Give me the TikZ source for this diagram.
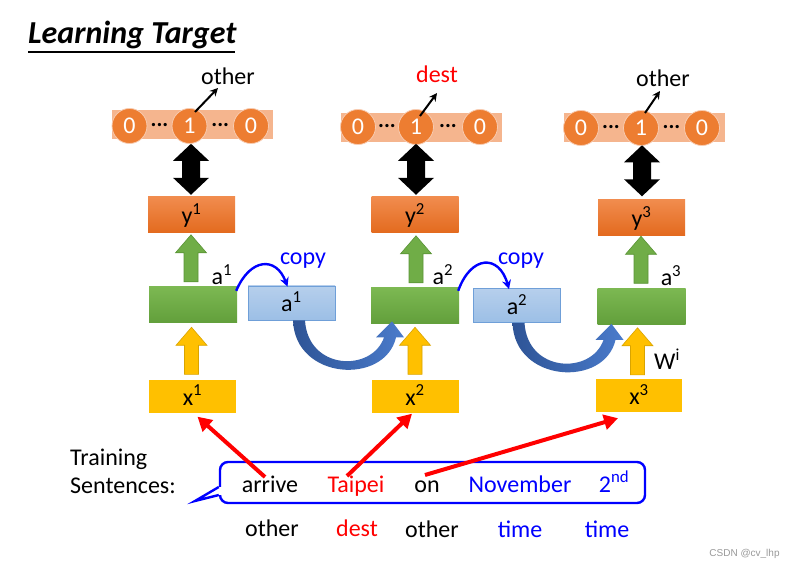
\documentclass[tikz,border=0pt]{standalone}
\usepackage{fontspec}
\setmainfont{Carlito}
\newfontfamily\wmfont{Liberation Sans}
\usetikzlibrary{arrows.meta,calc}
\definecolor{stripc}{HTML}{F5B58E}
\definecolor{circc}{HTML}{ED7D31}
\definecolor{yorT}{HTML}{F18C4E}
\definecolor{yorB}{HTML}{E36A1E}
\definecolor{grT}{HTML}{7CB852}
\definecolor{grB}{HTML}{629F3B}
\definecolor{garr}{HTML}{70AD47}
\definecolor{garrD}{HTML}{5A9436}
\definecolor{xyel}{HTML}{FFC000}
\definecolor{yarrD}{HTML}{D9A400}
\definecolor{abT}{HTML}{B6CFEC}
\definecolor{abB}{HTML}{9CBFE6}
\definecolor{abD}{HTML}{6F9FD8}
\definecolor{cvL}{HTML}{2E5496}
\definecolor{cvR}{HTML}{4A7BCB}
\definecolor{bblue}{HTML}{0000FF}
\definecolor{rred}{HTML}{FF0000}
\tikzset{
  box/.style={minimum width=87pt, minimum height=36pt, inner sep=0pt, text height=18pt, text depth=0pt},
  ybox/.style={box, top color=yorT, bottom color=yorB},
  gbox/.style={box, minimum width=88pt, top color=grT, bottom color=grB},
  xbox/.style={box, minimum height=33pt, fill=xyel},
  abox/.style={box, minimum height=34pt, top color=abT, bottom color=abB, draw=abD, line width=0.8pt},
  strip/.style={fill=stripc, minimum width=161pt, minimum height=29pt, inner sep=0pt},
  onehot/.style={circle, fill=circc, draw=stripc!70!white, line width=0.8pt, minimum size=35pt, inner sep=0pt, text=white},
  dots/.style={font=\fontsize{22}{22}\selectfont\bfseries, inner sep=0pt},
  lbl/.style={inner sep=0pt, anchor=base},
  redarr/.style={draw=rred, line width=4pt, -{Triangle[length=14pt,width=15pt]}},
  pointer/.style={line width=2pt, -{Stealth[length=8pt,width=8pt]}},
  copyarr/.style={draw=bblue, line width=2.4pt, -{Stealth[length=9pt,width=9pt]}},
  curvearr/.style={left color=cvL, right color=cvR},
  blockup/.pic={\path[pic actions] (-7,0) -- (-7,-29) -- (-15.5,-29) -- (0,-47) -- (15.5,-29) -- (7,-29) -- (7,0) -- cycle;},
  dblarrow/.pic={\path[pic actions] (0,0) -- (18,-17) -- (9,-17) -- (9,-34) -- (18,-34) -- (0,-51) -- (-18,-34) -- (-9,-34) -- (-9,-17) -- (-18,-17) -- cycle;}
}
\begin{document}
\begin{tikzpicture}[x=1pt,y=-1pt,font=\fontsize{24}{28}\selectfont]
\useasboundingbox[fill=white] (0,0) rectangle (798,569);

% title
\node[anchor=base west, inner sep=0pt, font=\fontsize{32}{36}\selectfont\bfseries\itshape] (title) at (28,44) {Learning Target};
\draw[line width=1.8pt] ($(title.base west)+(0,8)$) -- ($(title.base east)+(-2,8)$);

% one-hot strips
\node[strip] (s1) at (192.5,124.5) {};
\node[strip] (s2) at (421,127.5) {};
\node[strip] (s3) at (644.5,127.5) {};
\node[onehot] (c11) at (129.5,126) {0};
\node[onehot] (c12) at (189.5,126) {1};
\node[onehot] (c13) at (251,126) {0};
\node[onehot] (c21) at (358,127) {0};
\node[onehot] (c22) at (416,127) {1};
\node[onehot] (c23) at (480,127) {0};
\node[onehot] (c31) at (581,128) {0};
\node[onehot] (c32) at (641,128) {1};
\node[onehot] (c33) at (702,128) {0};
\node[dots] (d11) at ($(c11)!0.5!(c12)+(0,-1)$) {...};
\node[dots] (d12) at ($(c12)!0.5!(c13)+(0,-1)$) {...};
\node[dots] (d21) at ($(c21)!0.5!(c22)+(0,-1)$) {...};
\node[dots] (d22) at ($(c22)!0.5!(c23)+(0,-1)$) {...};
\node[dots] (d31) at ($(c31)!0.5!(c32)+(0,-1)$) {...};
\node[dots] (d32) at ($(c32)!0.5!(c33)+(0,-1)$) {...};

% top labels
\node[lbl] (t1) at (228,85) {other};
\node[lbl, text=rred] (t2) at (437,83) {dest};
\node[lbl] (t3) at (663,87) {other};
\draw[pointer] ($(c12.center)+(5.5,-14)$) -- ($(c12.center)+(28.5,-38)$);
\draw[pointer] ($(c22.center)+(4,-11)$) -- ($(c22.center)+(21,-34)$);
\draw[pointer] ($(c32.center)+(4,-15)$) -- ($(c32.center)+(19,-37)$);

% boxes
\node[ybox] (y1) at (191.5,215) {y\textsuperscript{1}};
\node[ybox] (y2) at (415,215) {y\textsuperscript{2}};
\node[ybox] (y3) at (641.5,217.5) {y\textsuperscript{3}};
\node[gbox] (g1) at (193,305) {};
\node[gbox] (g2) at (415,306) {};
\node[gbox] (g3) at (641.5,306.5) {};
\node[abox] (a1) at (291.5,303) {a\textsuperscript{1}};
\node[abox] (a2) at (517,305.5) {a\textsuperscript{2}};
\node[xbox] (x1) at (192.5,396) {x\textsuperscript{1}};
\node[xbox] (x2) at (415,396) {x\textsuperscript{2}};
\node[xbox, minimum width=86pt] (x3) at (639,395.5) {x\textsuperscript{3}};

% double arrows
\pic[fill=black] at ($(y1.north)+(-0.5,-2)$) {dblarrow};
\pic[fill=black] at ($(y2.north)+(1,-2)$) {dblarrow};
\pic[fill=black] at ($(y3.north)+(0.5,-3)$) {dblarrow};

% green arrows
\pic[fill=garr, draw=garrD, line width=0.6pt] at ($(g1.north)+(-2,-5)$) {blockup};
\pic[fill=garr, draw=garrD, line width=0.6pt] at ($(g2.north)+(1,-5)$) {blockup};
\pic[fill=garr, draw=garrD, line width=0.6pt] at ($(g3.north)+(-0.5,-5)$) {blockup};

% yellow arrows
\pic[fill=xyel, draw=yarrD, line width=0.6pt] at ($(x1.north)+(-1,-5)$) {blockup};
\pic[fill=xyel, draw=yarrD, line width=0.6pt] at ($(x2.north)+(0,-5)$) {blockup};
\pic[fill=xyel, draw=yarrD, line width=0.6pt] at ($(x3.north)+(-1.5,-4)$) {blockup};

% a labels and copy
\node[lbl] (la1) at (222,285) {a\textsuperscript{1}};
\node[lbl] (la2) at (443,285) {a\textsuperscript{2}};
\node[lbl] (la3) at (671,286) {a\textsuperscript{3}};
\node[lbl, text=bblue] (cp1) at (303,265) {copy};
\node[lbl, text=bblue] (cp2) at (521,265) {copy};
\draw[copyarr] ($(g1.north east)+(-1,4)$) .. controls (250,258) and (276,256) .. ($(a1.north)+(-4,1)$);
\draw[copyarr] ($(g2.north east)+(-1,3)$) .. controls (471,255) and (499,254) .. ($(a2.north)+(-8,1)$);

% curved recurrent arrows
\begin{scope}[shift={(a1.south)}]
\path[curvearr] (1.5,0) .. controls (3.5,60) and (93.5,65) .. (104.5,17) -- (112.5,17) -- (100.5,1) -- (84.5,17) -- (92.5,17) .. controls (80.5,52) and (16.5,50) .. (13.5,0) -- cycle;
\end{scope}
\begin{scope}[shift={($(a2.south)+(-6,0)$)}]
\path[curvearr] (1.5,0) .. controls (3.5,60) and (93.5,65) .. (104.5,17) -- (112.5,17) -- (100.5,1) -- (84.5,17) -- (92.5,17) .. controls (80.5,52) and (16.5,50) .. (13.5,0) -- cycle;
\end{scope}

% W label
\node[lbl] (wi) at (667,370) {W\textsuperscript{i}};

% training sentence
\node[inner sep=0pt, anchor=base west] (tr1) at (70,465) {Training};
\node[inner sep=0pt, anchor=base west] (tr2) at (70,493) {Sentences:};
\node[draw=bblue, line width=2.4pt, rounded corners=8pt, minimum width=425pt, minimum height=41pt, inner sep=0pt] (bubble) at (432.5,482.5) {};
\fill[white] ($(bubble.west)+(-2,4.5)$) rectangle ($(bubble.west)+(3,12.5)$);
\draw[draw=bblue, line width=2.4pt, line join=miter] ($(bubble.west)+(0,4.5)$) -- (195,501) -- ($(bubble.west)+(0,12.5)$);

\node[lbl] (w1) at (270,492) {arrive};
\node[lbl, text=rred] (w2) at (356,492) {Taipei};
\node[lbl] (w3) at (427,492) {on};
\node[lbl, text=bblue] (w4) at (520,492) {November};
\node[lbl, text=bblue] (w5) at (614,492) {2\textsuperscript{nd}};

\node[lbl] (l1) at (272,536) {other};
\node[lbl, text=rred] (l2) at (357,536) {dest};
\node[lbl] (l3) at (432,537) {other};
\node[lbl, text=bblue] (l4) at (520,537) {time};
\node[lbl, text=bblue] (l5) at (607,537) {time};

% red arrows
\draw[redarr] ($(w1.base)+(-5,-15)$) -- ($(x1.south)+(5,4)$);
\draw[redarr] ($(w2.base)+(-9,-16)$) -- ($(x2.south)+(-3,1)$);
\draw[redarr] ($(w3.base)+(-2,-17)$) -- ($(x3.south)+(-21,6)$);

% watermark
\node[inner sep=0pt, text=gray!80, font=\wmfont\fontsize{10}{12}\selectfont] (wm) at (744.5,554) {CSDN @cv\_lhp};
\end{tikzpicture}
\end{document}
